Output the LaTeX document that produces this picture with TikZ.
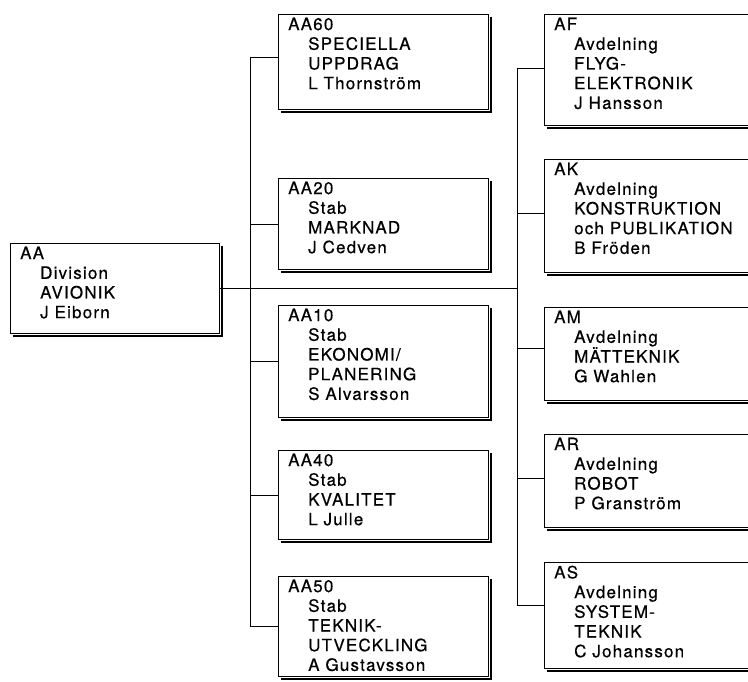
\documentclass[tikz,border=0pt]{standalone}
\usepackage{fontspec}
\setmainfont{TeX Gyre Heros}[LetterSpace=7,FakeBold=0.5]
\newcommand{\indrag}{\hspace*{20pt}}
\tikzset{enhet/.style={draw,line width=1.2pt,fill=white,anchor=north west,inner sep=0pt},
 rubrik/.style={anchor=north west,inner sep=0pt,xshift=10pt,yshift=-3.5pt,align=left,
  font=\fontsize{17}{19.7}\selectfont},
 skugga/.style={line width=2.6pt},
 linje/.style={line width=.9pt}}

\begin{document}
\begin{tikzpicture}[x=1pt,y=-1pt]
\useasboundingbox (0,0) rectangle (748,681);
\node[enhet,minimum width=209pt,minimum height=90pt,
 label={[rubrik]north west:{AA\\\indrag Division\\\indrag AVIONIK\\\indrag J Eiborn}}] (aa) at (10,243) {};
\node[enhet,minimum width=210pt,minimum height=95pt,
 label={[rubrik]north west:{AA60\\\indrag SPECIELLA\\\indrag UPPDRAG\\\indrag L Thornström}}] (aa60) at (278,14) {};
\node[enhet,minimum width=210pt,minimum height=91pt,
 label={[rubrik]north west:{AA20\\\indrag Stab\\\indrag MARKNAD\\\indrag J Cedven}}] (aa20) at (278,178) {};
\node[enhet,minimum width=210pt,minimum height=112pt,
 label={[rubrik]north west:{AA10\\\indrag Stab\\\indrag EKONOMI/\\\indrag PLANERING\\\indrag S Alvarsson}}] (aa10) at (278,305) {};
\node[enhet,minimum width=210pt,minimum height=89pt,
 label={[rubrik]north west:{AA40\\\indrag Stab\\\indrag KVALITET\\\indrag L Julle}}] (aa40) at (278,450) {};
\node[enhet,minimum width=210pt,minimum height=100pt,
 label={[rubrik]north west:{AA50\\\indrag Stab\\\indrag TEKNIK-\\\indrag UTVECKLING\\\indrag A Gustavsson}}] (aa50) at (278,576) {};
\node[enhet,minimum width=216pt,minimum height=111pt,
 label={[rubrik]north west:{AF\\\indrag Avdelning\\\indrag FLYG-\\\indrag ELEKTRONIK\\\indrag J Hansson}}] (af) at (544,14) {};
\node[enhet,minimum width=216pt,minimum height=113pt,
 label={[rubrik]north west:{AK\\\indrag Avdelning\\\indrag KONSTRUKTION\\\indrag och PUBLIKATION\\\indrag B Fröden}}] (ak) at (544,159) {};
\node[enhet,minimum width=216pt,minimum height=93pt,
 label={[rubrik]north west:{AM\\\indrag Avdelning\\\indrag MÄTTEKNIK\\\indrag G Wahlen}}] (am) at (544,307) {};
\node[enhet,minimum width=216pt,minimum height=93pt,
 label={[rubrik]north west:{AR\\\indrag Avdelning\\\indrag ROBOT\\\indrag P Granström}}] (ar) at (544,434) {};
\node[enhet,minimum width=216pt,minimum height=106pt,
 label={[rubrik]north west:{AS\\\indrag Avdelning\\\indrag SYSTEM-\\\indrag TEKNIK\\\indrag C Johansson}}] (as) at (544,562) {};
\foreach \n in {aa,aa60,aa20,aa10,aa40,aa50,af,ak,am,ar,as}
 \draw[skugga] ([xshift=3pt,yshift=-1.8pt]\n.south west) -| ([xshift=1.8pt,yshift=-3pt]\n.north east);
\draw[linje] ([yshift=4.5pt]aa60.west) -- ++(-28,0) |- (aa50.west);
\foreach \n in {aa20,aa10,aa40}
 \draw[linje] (\n.west) -- ++(-28,0);
\draw[linje] ([yshift=1.5pt]af.west) -- ++(-27,0) |- ([yshift=10pt]as.west);
\foreach \n/\d in {ak/2.5,am/5.5,ar/2.5}
 \draw[linje] ([yshift=\d pt]\n.west) -- ++(-27,0);
\draw[linje] (aa.east) -- ++(298,0);
\end{tikzpicture}
\end{document}
